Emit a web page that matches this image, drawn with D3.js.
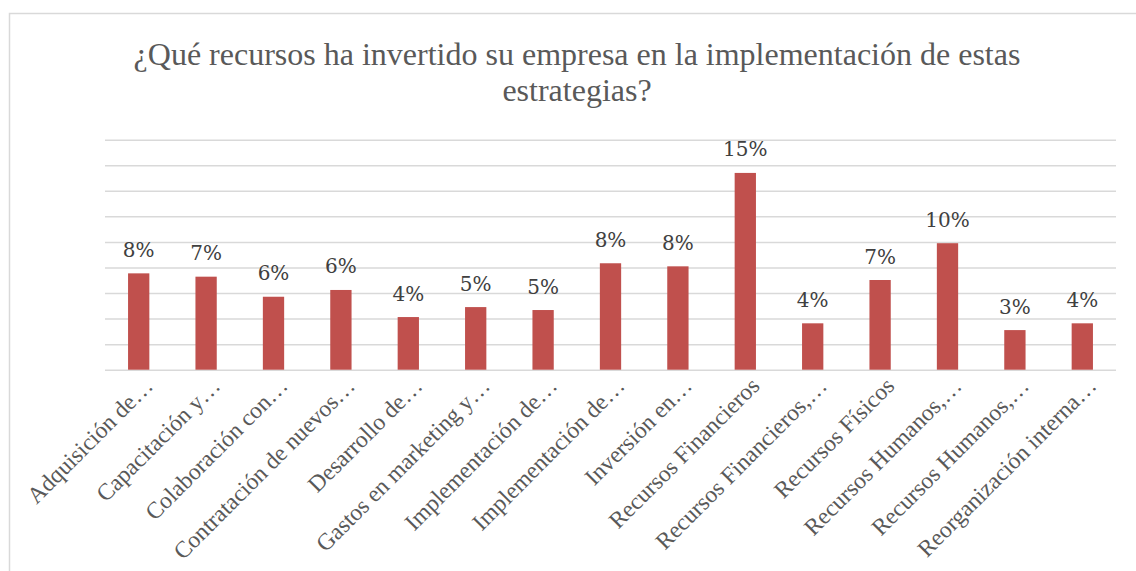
<!DOCTYPE html>
<html>
<head>
<meta charset="utf-8">
<script src="https://cdn.jsdelivr.net/npm/d3@7"></script>
<style>
  body { margin: 0; background: #fff; }
  svg { display: block; }
</style>
</head>
<body>
<svg id="chart"></svg>
<script>
var width = 1136,
    height = 571;

// chart data
var categories = [
  "Adquisición de…",
  "Capacitación y…",
  "Colaboración con…",
  "Contratación de nuevos…",
  "Desarrollo de…",
  "Gastos en marketing y…",
  "Implementación de…",
  "Implementación de…",
  "Inversión en…",
  "Recursos Financieros",
  "Recursos Financieros,…",
  "Recursos Físicos",
  "Recursos Humanos,…",
  "Recursos Humanos,…",
  "Reorganización interna…"
];
var values = [0.0754, 0.0728, 0.0571, 0.0624, 0.0412, 0.049, 0.0467, 0.0833,
              0.0809, 0.154, 0.0363, 0.0702, 0.099, 0.031, 0.0363];
var yTicks = [0, 0.02, 0.04, 0.06, 0.08, 0.10, 0.12, 0.14, 0.16, 0.18];
var titleLines = ["¿Qué recursos ha invertido su empresa en la implementación de estas",
                  "estrategias?"];

var plot = {left: 105, right: 1116, top: 139.7, bottom: 369.7};
var serif = "'Liberation Serif', 'Times New Roman', Times, serif";

var svg = d3.select("#chart")
    .attr("width", width)
    .attr("height", height);

svg.append("rect")
    .attr("width", width)
    .attr("height", height)
    .attr("fill", "#fff");

// outer chart frame (only left and top edges are visible)
svg.append("path")
    .attr("d", "M9.5," + height + "V13.5H" + width)
    .attr("fill", "none")
    .attr("stroke", "#d9d9d9")
    .attr("stroke-width", 1.5);

var x = d3.scaleBand()
    .domain(d3.range(categories.length))
    .range([plot.left, plot.right])
    .paddingInner(0.684)
    .paddingOuter(0.342);

var y = d3.scaleLinear()
    .domain([0, 0.18])
    .range([plot.bottom, plot.top]);

// gridlines
var grid = svg.append("g")
    .attr("transform", "translate(" + plot.left + ",0)")
    .call(d3.axisLeft(y)
      .tickValues(yTicks)
      .tickSize(-(plot.right - plot.left))
      .tickFormat(""));
grid.select(".domain").remove();
grid.selectAll(".tick line")
    .attr("stroke", "#d9d9d9")
    .attr("stroke-width", 1.5);

// bars
svg.append("g")
    .selectAll("rect")
    .data(values)
  .enter().append("rect")
    .attr("x", function(d, i) { return x(i); })
    .attr("y", function(d) { return y(d); })
    .attr("width", x.bandwidth())
    .attr("height", function(d) { return y(0) - y(d); })
    .attr("fill", "#c0504d");

// value labels
var pct = d3.format(".0%");
svg.append("g")
    .selectAll("text")
    .data(values)
  .enter().append("text")
    .attr("x", function(d, i) { return x(i) + x.bandwidth() / 2; })
    .attr("y", function(d) { return y(d) - 16.5; })
    .attr("text-anchor", "middle")
    .attr("font-family", "'DejaVu Serif', serif")
    .attr("font-size", 20)
    .attr("fill", "#404040")
    .text(function(d) { return pct(d); });

// x axis labels
var xAxis = svg.append("g")
    .attr("transform", "translate(0," + (plot.bottom + 2) + ")")
    .call(d3.axisBottom(x)
      .tickSize(0)
      .tickFormat(function(i) { return categories[i]; }));
xAxis.select(".domain").remove();
xAxis.selectAll(".tick text")
    .attr("font-family", serif)
    .attr("font-size", 23.5)
    .attr("fill", "#595959")
    .attr("text-anchor", "end")
    .attr("x", 0)
    .attr("y", 0)
    .attr("dy", 22)
    .attr("transform", "rotate(-45)");

// title
svg.append("text")
    .attr("text-anchor", "middle")
    .attr("font-family", serif)
    .attr("font-size", 32)
    .attr("fill", "#595959")
    .selectAll("tspan")
    .data(titleLines)
  .enter().append("tspan")
    .attr("x", 577)
    .attr("y", function(d, i) { return 65 + i * 36; })
    .text(function(d) { return d; });
</script>
</body>
</html>
